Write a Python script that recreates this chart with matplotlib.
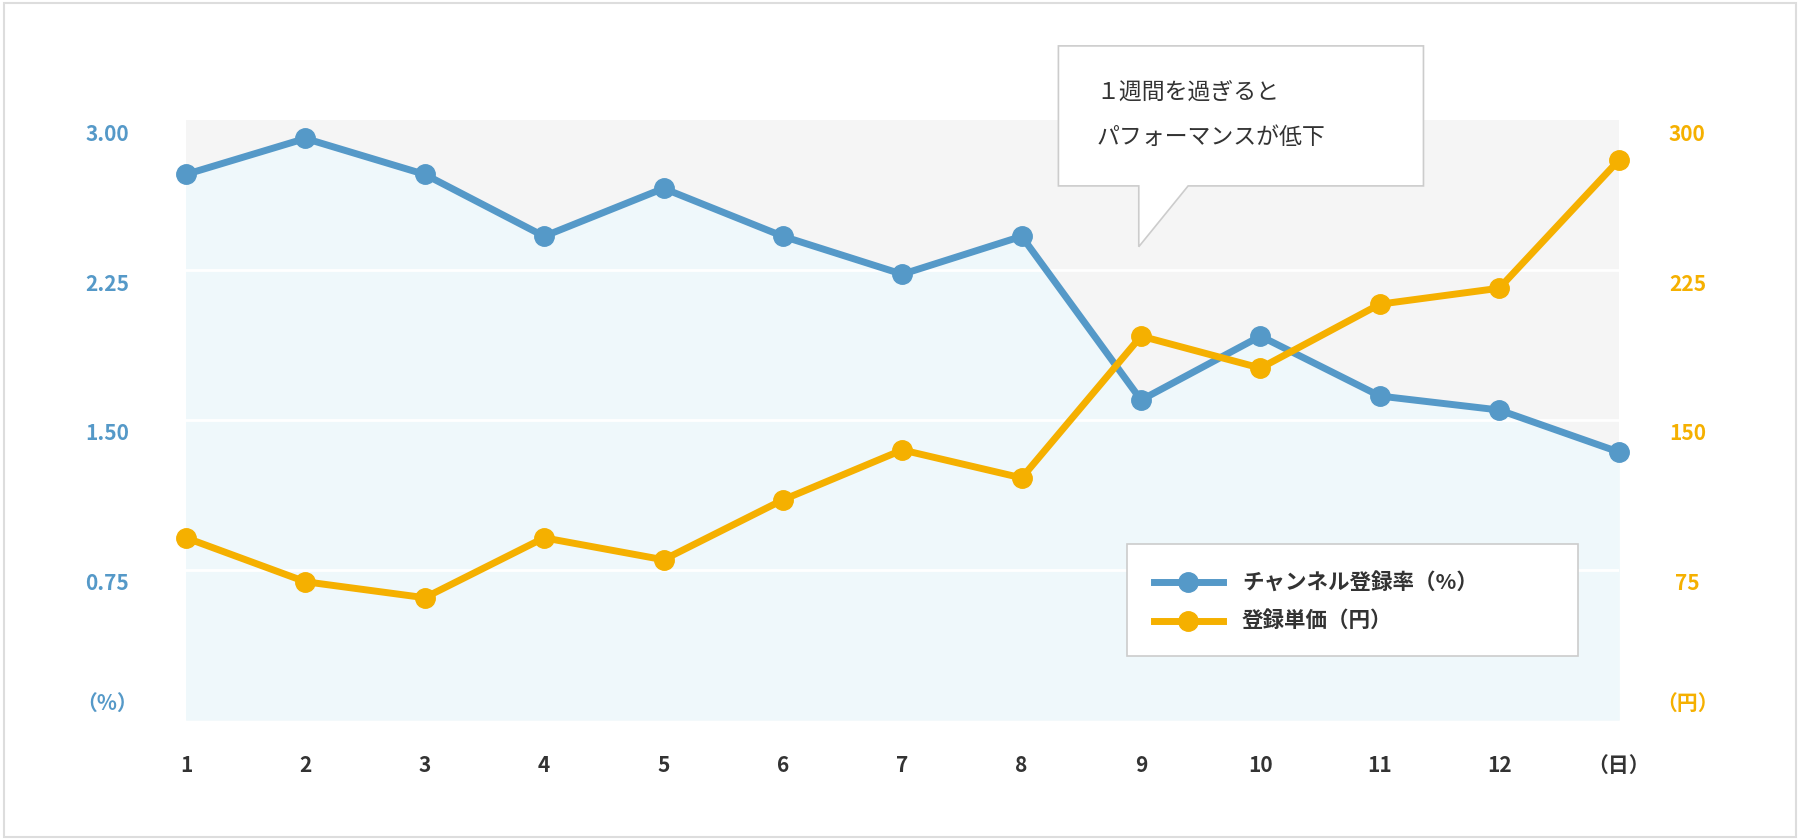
import matplotlib.pyplot as plt
from matplotlib.patches import Polygon, Rectangle
from matplotlib.lines import Line2D

plt.rcParams["font.family"] = "Noto Sans CJK JP"

days = list(range(1, 14))
day_labels = [str(d) for d in range(1, 13)] + ["（日）"]
rate = [2.73, 2.91, 2.73, 2.42, 2.66, 2.42, 2.23, 2.42, 1.60, 1.92, 1.62, 1.55, 1.34]
price = [91, 69, 61, 91, 80, 110, 135, 121, 192, 176, 208, 216, 280]
left_ticks = [0.75, 1.50, 2.25, 3.00]
right_ticks = [75, 150, 225, 300]

BLUE = "#5599c8"
ORANGE = "#f5b000"
W, H = 1568, 732

fig = plt.figure(figsize=(18, 8.4), dpi=100)
fig.patch.set_facecolor("white")
fig.add_artist(Rectangle((0.002, 0.003), 0.996, 0.994, transform=fig.transFigure,
                         fill=False, edgecolor="#dddddd", lw=1.5))

ax = fig.add_axes([162 / W, 1 - 627 / H, (1410 - 162) / W, (627 - 105) / H])
ax.set_xlim(1, 13)
ax.set_ylim(0, 3)
ax.set_facecolor("#f5f5f5")
for s in ax.spines.values():
    s.set_visible(False)
ax.set_xticks([])
ax.set_yticks([])
ax.fill_between(days, rate, 0, color="#eff8fb", zorder=1)
for t in left_ticks[:-1]:
    ax.axhline(t, color="white", lw=2, zorder=2)
ax.plot(days, rate, color=BLUE, lw=5, marker="o", ms=14, zorder=5, clip_on=False)

ax2 = ax.twinx()
ax2.set_ylim(0, 300)
ax2.set_yticks([])
for s in ax2.spines.values():
    s.set_visible(False)
ax2.plot(days, price, color=ORANGE, lw=5, marker="o", ms=14, zorder=5, clip_on=False)

# axis labels as text
for t in left_ticks:
    ax.text(-0.055, t - 0.07, f"{t:.2f}", transform=ax.get_yaxis_transform(),
            ha="center", va="center", color=BLUE, fontsize=15, fontweight="bold")
ax.text(-0.055, 0.08, "（%）", transform=ax.get_yaxis_transform(),
        ha="center", va="center", color=BLUE, fontsize=15, fontweight="bold")
for t in right_ticks:
    ax2.text(1.048, t - 7, str(t), transform=ax2.get_yaxis_transform(),
             ha="center", va="center", color=ORANGE, fontsize=15, fontweight="bold")
ax2.text(1.048, 8, "（円）", transform=ax2.get_yaxis_transform(),
         ha="center", va="center", color=ORANGE, fontsize=15, fontweight="bold")
for d, lab in zip(days, day_labels):
    ax.text(d, -0.077, lab, transform=ax.get_xaxis_transform(),
            ha="center", va="center", color="#333333", fontsize=15, fontweight="bold")

# callout
pts = [(922, 40), (1240, 40), (1240, 162), (1035, 162), (992, 215), (992, 162), (922, 162)]
fig.add_artist(Polygon([(x / W, 1 - y / H) for x, y in pts], closed=True,
                       transform=fig.transFigure, facecolor="white",
                       edgecolor="#cccccc", lw=1.2, zorder=10))
fig.text(955 / W, 1 - 80 / H, "１週間を過ぎると", fontsize=16.5, color="#333333",
         va="center", ha="left", zorder=11)
fig.text(955 / W, 1 - 120 / H, "パフォーマンスが低下", fontsize=16.5, color="#333333",
         va="center", ha="left", zorder=11)

# legend
fig.add_artist(Rectangle((982 / W, 1 - 572 / H), (1375 - 982) / W, (572 - 474) / H,
                         transform=fig.transFigure, facecolor="white",
                         edgecolor="#cccccc", lw=1.2, zorder=10))
for y, c, lab in [(507, BLUE, "チャンネル登録率（%）"), (541, ORANGE, "登録単価（円）")]:
    fig.add_artist(Line2D([1005 / W, 1065 / W], [1 - y / H] * 2, transform=fig.transFigure,
                          color=c, lw=5, zorder=11))
    fig.add_artist(Line2D([1035 / W], [1 - y / H], transform=fig.transFigure,
                          color=c, marker="o", ms=14, zorder=12))
    fig.text(1082 / W, 1 - y / H, lab, fontsize=15.5, fontweight="bold", color="#333333",
             va="center", ha="left", zorder=12)

fig.savefig("out.png", dpi=100)
